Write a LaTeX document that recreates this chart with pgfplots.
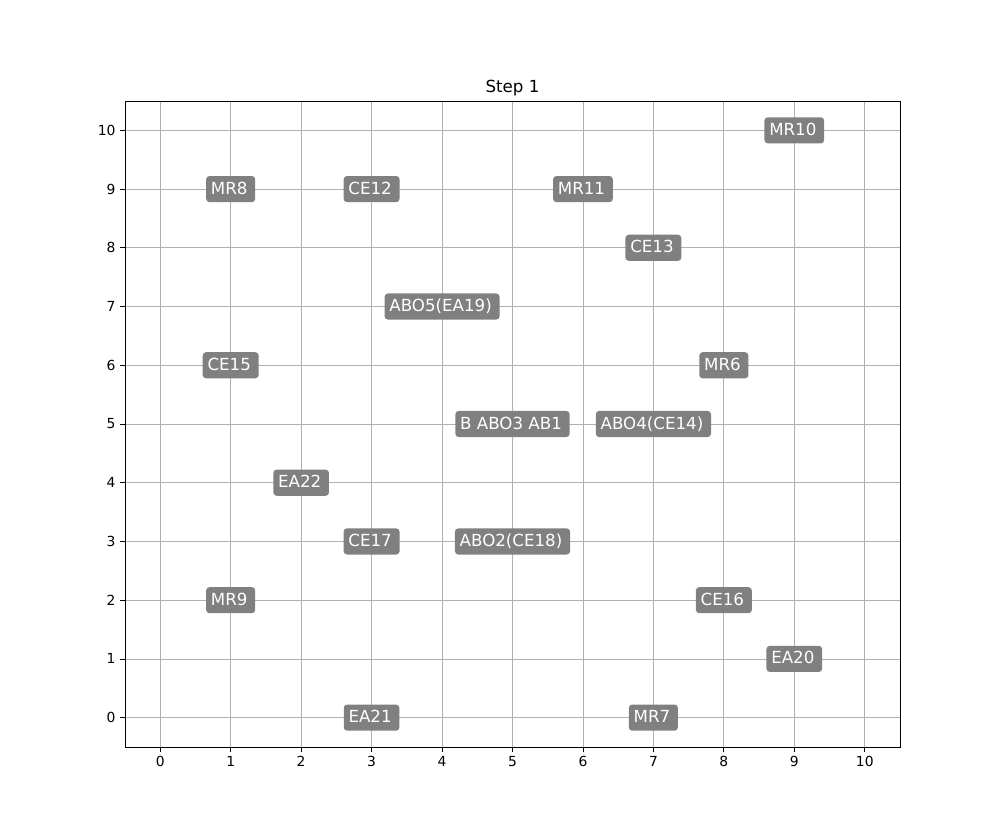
\documentclass[border=0pt]{standalone}
\usepackage{pgfplots}
\pgfplotsset{compat=1.18}
\usepackage{fontspec}
\setmainfont{DejaVu Sans}
\definecolor{gridgray}{HTML}{B0B0B0}
\definecolor{boxgray}{HTML}{808080}
\begin{document}
\begin{tikzpicture}[x=0.75pt,y=0.75pt]
\useasboundingbox (-125,-92) rectangle (875,747);
\begin{axis}[
  at={(0,0)}, anchor=south west,
  scale only axis,
  width=581.25pt, height=484.5pt,
  xmin=-0.5, xmax=10.5, ymin=-0.5, ymax=10.5,
  xtick={0,...,10}, ytick={0,...,10},
  grid=major,
  major grid style={gridgray, line width=0.6pt},
  axis line style={black, line width=0.6pt},
  tick align=outside, tick pos=left,
  major tick length=3.6pt,
  tick style={black, line width=0.6pt},
  ticklabel style={font=\fontsize{10.4}{12}\selectfont},
  /pgf/number format/assume math mode=true,
  title={Step 1},
  title style={font=\fontsize{12.5}{15}\selectfont, yshift=-5.5pt},
  axis on top=false,
]
\addplot[only marks, mark=none,
  nodes near coords={\pgfplotspointmeta\kern2.2pt},
  point meta=explicit symbolic,
  every node near coord/.style={anchor=center, fill=boxgray, text=white,
    rounded corners=2.5pt, inner xsep=3.6pt, inner ysep=3.2pt,
    text height=10.4pt, text depth=2.8pt,
    font=\fontsize{12.5}{15}\selectfont},
] coordinates {
  (9,10) [MR10]
  (1,9) [MR8]
  (3,9) [CE12]
  (6,9) [MR11]
  (7,8) [CE13]
  (4,7) [ABO5(EA19)]
  (1,6) [CE15]
  (8,6) [MR6]
  (5,5) [B ABO3 AB1]
  (7,5) [ABO4(CE14)]
  (2,4) [EA22]
  (3,3) [CE17]
  (5,3) [ABO2(CE18)]
  (1,2) [MR9]
  (8,2) [CE16]
  (9,1) [EA20]
  (3,0) [EA21]
  (7,0) [MR7]
};
\end{axis}
\end{tikzpicture}
\end{document}
